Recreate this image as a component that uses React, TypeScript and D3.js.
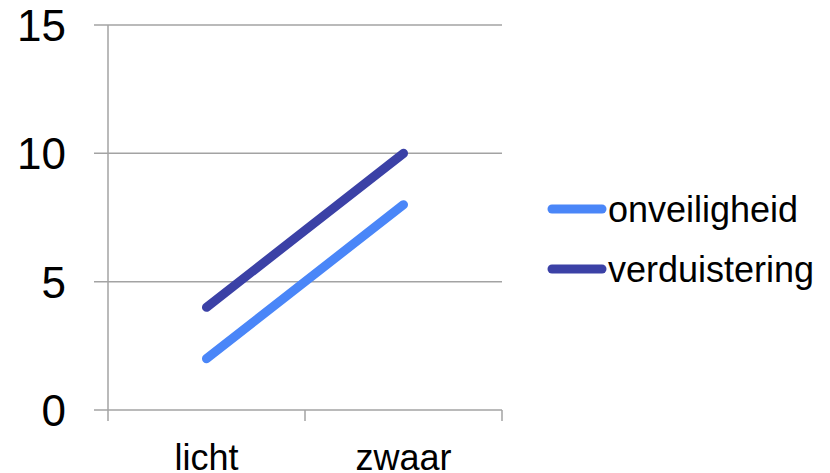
import React from 'react';
import * as d3 from 'd3';

const categories = ['licht', 'zwaar'];
const onveiligheid = [2, 8];
const verduistering = [4, 10];
const yTicks = [0, 5, 10, 15];

const series = [
  { name: 'onveiligheid', values: onveiligheid, color: '#4a86f8' },
  { name: 'verduistering', values: verduistering, color: '#3b41a6' },
];

const W = 830;
const H = 473;
const FONT = '"Liberation Sans", Arial, sans-serif';

const App: React.FC = () => {
  const left = 108;
  const right = 502;
  const top = 25;
  const bottom = 410;

  const x = d3.scaleBand<string>().domain(categories).range([left, right]);
  const y = d3.scaleLinear().domain([0, 15]).range([bottom, top]);

  const line = d3
    .line<number>()
    .x((_, i) => (x(categories[i]) || 0) + x.bandwidth() / 2)
    .y((d) => y(d));

  const grid = '#a3a3a3';

  return (
    <svg width={W} height={H} style={{ position: 'absolute', left: 0, top: 0 }} fontFamily={FONT}>
      {/* horizontal gridlines with outside ticks */}
      {yTicks.map((t) => (
        <line key={t} x1={left - 14} x2={right} y1={y(t)} y2={y(t)} stroke={grid} strokeWidth={1.5} />
      ))}
      <line x1={left} x2={left} y1={top} y2={bottom + 11} stroke={grid} strokeWidth={1.5} />
      {/* category boundaries on x axis */}
      {categories.map((c) => (
        <line key={c} x1={(x(c) || 0) + x.bandwidth()} x2={(x(c) || 0) + x.bandwidth()} y1={bottom} y2={bottom + 11} stroke={grid} strokeWidth={1.5} />
      ))}
      {yTicks.map((t) => (
        <text key={t} x={66} y={y(t)} dy="0.36em" textAnchor="end" fontSize={44} fill="#000">
          {t}
        </text>
      ))}
      {categories.map((c) => (
        <text key={c} x={(x(c) || 0) + x.bandwidth() / 2} y={470} textAnchor="middle" fontSize={36} fill="#000">
          {c}
        </text>
      ))}
      {series.map((s) => (
        <path key={s.name} d={line(s.values) || ''} fill="none" stroke={s.color} strokeWidth={9} strokeLinecap="round" />
      ))}
      {series.map((s, i) => (
        <g key={s.name} transform={`translate(0,${209 + i * 60})`}>
          <line x1={552} x2={602} y1={0} y2={0} stroke={s.color} strokeWidth={9} strokeLinecap="round" />
          <text x={608} y={0} dy="0.36em" fontSize={36} fill="#000">
            {s.name}
          </text>
        </g>
      ))}
    </svg>
  );
};

export default App;
